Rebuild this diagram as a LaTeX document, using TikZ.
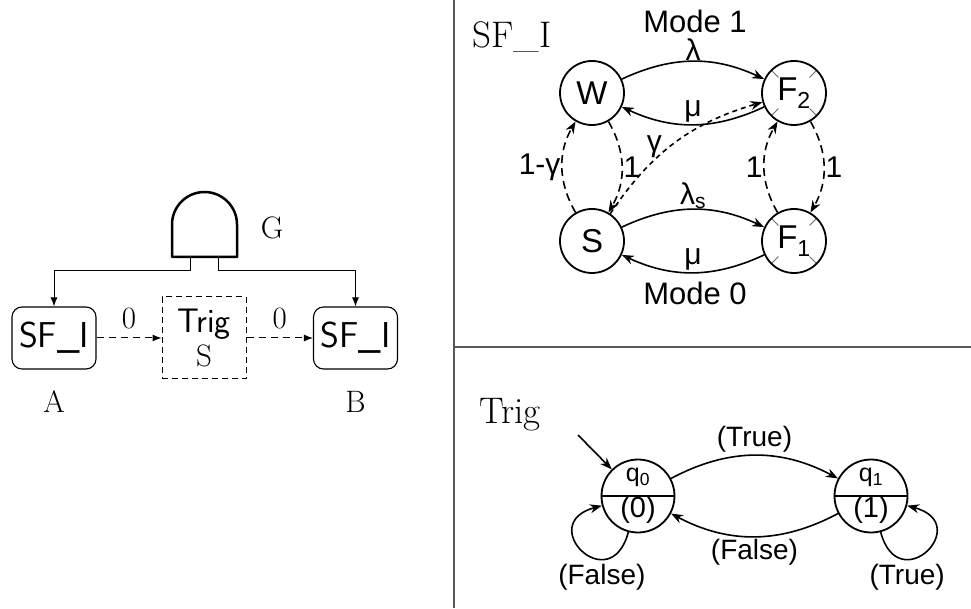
\documentclass[tikz,border=0pt]{standalone}
\usepackage{fontspec}
\newfontfamily\arialfont{Liberation Sans}
\usetikzlibrary{arrows.meta, positioning, calc}

\begin{document}
\begin{tikzpicture}[
	x=1pt, y=1pt,
	sfbox/.style={draw, rounded corners=10pt, minimum width=84pt, minimum height=62pt, line width=1.1pt, font=\sffamily\fontsize{36}{40}\selectfont},
	trigbox/.style={draw, dash pattern=on 6pt off 4pt, minimum width=84pt, minimum height=82pt, line width=1pt, align=center},
	arrow/.style={-{Latex[length=9pt, width=7pt]}, line width=1pt},
	darrow/.style={arrow, dash pattern=on 7pt off 5pt},
	lbl/.style={font=\fontsize{31}{34}\selectfont},
	head/.style={font=\fontsize{37}{42}\selectfont},
	state/.style={circle, draw, minimum size=64pt, inner sep=0pt, line width=1.8pt, font=\arialfont\fontsize{33}{36}\selectfont},
	fstate/.style={state, path picture={
		\foreach \a in {45,135,225,315}
			\draw[gray!85!black, line width=0.9pt] (path picture bounding box.center) ++(\a:22pt) -- ++(\a:12pt);}},
	sarrow/.style={-{Stealth[length=12pt, width=9pt]}, line width=1.6pt},
	sdarrow/.style={sarrow, dash pattern=on 8pt off 5pt},
	elbl/.style={font=\arialfont\fontsize{28}{32}\selectfont, inner sep=2pt},
	glbl/.style={font=\arialfont\fontsize{30}{32}\selectfont, inner sep=1pt},
	mode/.style={font=\arialfont\fontsize{31}{34}\selectfont, inner sep=0pt},
	qstate/.style={circle, draw, minimum size=73pt, inner sep=0pt, line width=1.8pt, align=center, font=\arialfont,
		path picture={\draw[line width=1.2pt] (path picture bounding box.west) -- (path picture bounding box.east);}}
]
	\path[use as bounding box, fill=white] (0,0) rectangle (971,608);

	% fault tree
	\draw[line width=2.5pt, line join=round] (172,351) -- (172,383.5) arc[start angle=180, end angle=0, radius=32.5] -- (237,351) -- cycle;
	\coordinate (gl) at (190,351);
	\coordinate (gr) at (218,351);
	\node[lbl] (g) at (272,380) {G};
	\node[sfbox] (a) at (54,270) {SF\_I};
	\node[trigbox] (trig) at (204,270) {{\sffamily\fontsize{34}{36}\selectfont Trig}\\[4pt]{\fontsize{31}{32}\selectfont S}};
	\node[sfbox] (b) at (355.5,270) {SF\_I};
	\node[lbl, below=18pt of a] (alab) {A};
	\node[lbl, below=18pt of b] (blab) {B};

	\draw[arrow] (gl) -- ++(0,-14) -| (a);
	\draw[arrow] (gr) -- ++(0,-14) -| (b);
	\draw[darrow] (a) -- node[lbl, above=5pt] {0} (trig);
	\draw[darrow] (trig) -- node[lbl, above=5pt] {0} (b);

	% panels
	\draw[gray!70!black, line width=1.3pt] (454,0) -- (454,608);
	\draw[gray!70!black, line width=1.3pt] (454,261) -- (971,261);

	% SF_I automaton
	\node[head] (sfhead) at (512,571) {SF\_I};
	\node[state] (w) at (592,515) {W};
	\node[fstate] (f2) at (794,515) {F\textsubscript{2}};
	\node[state] (sby) at (592,367) {S};
	\node[fstate] (f1) at (794,367) {F\textsubscript{1}};
	\node[mode] (mode1) at (695,587) {Mode 1};
	\node[mode] (mode0) at (695,315) {Mode 0};

	\draw[sarrow] (w) to[bend left=25] node[glbl, above, inner sep=0pt] {λ} (f2);
	\draw[sarrow] (f2) to[bend left=25] node[glbl, above] {μ} (w);
	\draw[sarrow] (sby) to[bend left=25] node[glbl, above, inner sep=0pt] {λ\textsubscript{s}} (f1);
	\draw[sarrow] (f1) to[bend left=25] node[glbl, above] {μ} (sby);
	\draw[sdarrow] (sby) to[bend left=30] node[glbl, left] {1-γ} (w);
	\draw[sdarrow] (w) to[bend left=30] node[glbl, right] {1} (sby);
	\draw[sdarrow, dash pattern=on 5pt off 4pt] (sby) to[bend left=20] node[glbl, pos=0.35, above] {γ} (f2);
	\draw[sdarrow] (f1) to[bend left=30] node[glbl, left] {1} (f2);
	\draw[sdarrow] (f2) to[bend left=30] node[glbl, right] {1} (f1);

	% Trig automaton
	\node[head] (trighead) at (510,193) {Trig};
	\node[qstate] (q0) at (638,112) {{\fontsize{25}{26}\selectfont q\textsubscript{0}}\\[9pt]{\fontsize{29}{30}\selectfont (0)}};
	\node[qstate] (q1) at (871,112) {{\fontsize{25}{26}\selectfont q\textsubscript{1}}\\[9pt]{\fontsize{29}{30}\selectfont (1)}};
	\coordinate (q0in) at (578,173);

	\draw[sarrow] (q0in) -- (q0);
	\draw[sarrow] (q0) to[bend left=28] node[elbl, above] {(True)} (q1);
	\draw[sarrow] (q1) to[bend left=28] node[elbl, below] {(False)} (q0);
	\draw[sarrow] (q0.255) .. controls +(255:70) and +(195:70) .. node[elbl, pos=0.3, below=2pt] {(False)} (q0.195);
	\draw[sarrow] (q1.285) .. controls +(285:70) and +(345:70) .. node[elbl, pos=0.3, below=2pt] {(True)} (q1.345);
\end{tikzpicture}
\end{document}
